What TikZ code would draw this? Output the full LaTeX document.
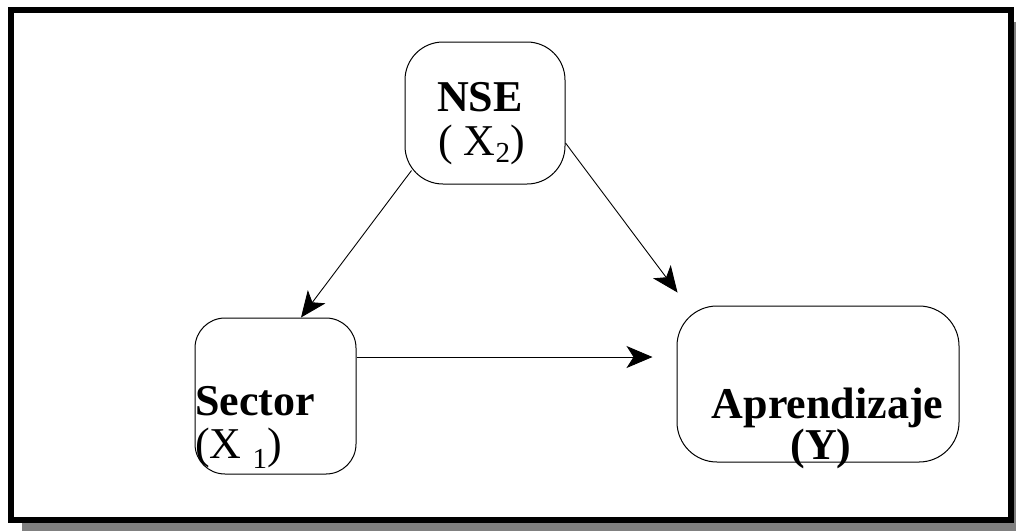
\documentclass[tikz,border=0pt]{standalone}
\usepackage{fontspec}
\setmainfont{Liberation Serif}
\usetikzlibrary{arrows.meta,calc}
\begin{document}
\begin{tikzpicture}[x=1pt,y=-1pt,
  box/.style={draw=black,line width=1pt,inner sep=0pt,fill=white},
  txt/.style={inner sep=0pt,font=\fontsize{44}{44}\selectfont},
  arr/.style={draw=black,line width=0.9pt,-{Stealth[length=26pt,width=22pt,inset=7pt]}}]
\useasboundingbox (0,0) rectangle (1016,531);
% frame with shadow
\fill[fill={rgb,255:red,128;green,128;blue,128}] (22,21.7) rectangle (1030,530.7);
\draw[line width=6pt,fill=white] (11,9.8) rectangle (1011.3,519.7);
% boxes
\node[box,rounded corners=38pt,minimum width=160pt,minimum height=142pt] (nse) at (485,113) {};
\node[box,rounded corners=30pt,minimum width=161pt,minimum height=156pt] (sec) at (275.5,396) {};
\node[box,rounded corners=40pt,minimum width=282pt,minimum height=156pt] (apr) at (818,384) {};
% texts
\node[txt,anchor=base] (nseT) at (480,111) {\textbf{NSE}};
\node[txt,anchor=base west] (nseX) at (438,155) {( X\raisebox{-7pt}{\fontsize{29}{29}\selectfont 2})};
\node[txt,anchor=base west] (secT) at (195,415) {\textbf{Sector}};
\node[txt,anchor=base west] (secX) at (195,458) {(X \raisebox{-10pt}{\fontsize{29}{29}\selectfont 1})};
\node[txt,anchor=base] (aprT) at (827.5,418) {\textbf{Aprendizaje}};
\node[txt,anchor=base] (aprY) at (821,459) {\textbf{(Y)}};
% connector ends
\coordinate (s1) at ($(nse.south west)+(7,-14)$);
\coordinate (s2) at ($(nse.east)+(0,30)$);
\coordinate (t2) at ($(apr.north west)+(1,-13)$);
\coordinate (s3) at ($(sec.east)+(0,-39)$);
\coordinate (t3) at ($(apr.west)+(-24,-27)$);
% connectors
\draw[arr] (s1) -- ($(sec.north)+(25.5,0)$);
\draw[arr] (s2) -- (t2);
\draw[arr] (s3) -- (t3);
\end{tikzpicture}
\end{document}
